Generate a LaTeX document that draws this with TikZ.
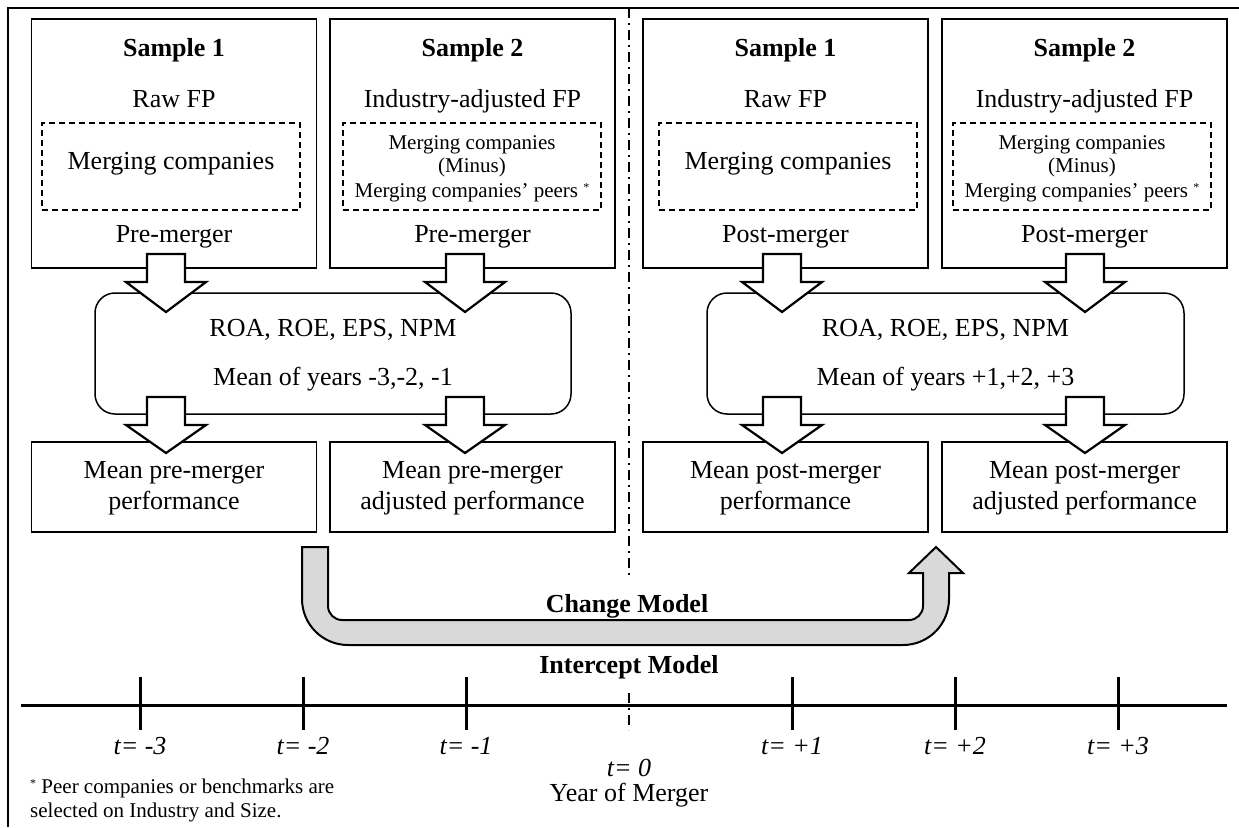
\documentclass[tikz,border=0pt]{standalone}
\usepackage{fontspec}
\setmainfont{Liberation Serif}
\definecolor{ugray}{HTML}{D9D9D9}
\newcommand\blkarrow[4]{% x, shaft top, head base, tip
  \draw[barrow] (#1-19,#2) -- (#1+19,#2) -- (#1+19,#3) -- (#1+40,#3) -- (#1,#4) -- (#1-40,#3) -- (#1-19,#3) -- cycle;}
\newcommand\smstar{\raisebox{6pt}{\fontsize{12}{12}\selectfont *}}
\begin{document}
\begin{tikzpicture}[x=1pt,y=-1pt,
  big/.style={font=\fontsize{26}{31}\selectfont, inner sep=0pt, anchor=base},
  bigb/.style={big, font=\fontsize{26}{31}\selectfont\bfseries},
  tlab/.style={big, font=\fontsize{26}{31}\selectfont\itshape},
  small/.style={font=\fontsize{21}{25}\selectfont, inner sep=0pt, anchor=base},
  topbox/.style={draw, line width=1.3pt, inner sep=0pt, minimum width=285pt, minimum height=249pt},
  dbox/.style={draw, dash pattern=on 6pt off 4pt, line width=1.2pt, inner sep=0pt, minimum width=258pt, minimum height=87pt},
  rbox/.style={draw, rounded corners=20pt, line width=1.5pt, inner sep=0pt, minimum width=477pt, minimum height=121pt},
  botbox/.style={draw, line width=1.3pt, inner sep=0pt, minimum width=285pt, minimum height=90pt},
  barrow/.style={draw, fill=white, line width=2.2pt, line join=miter},
  uarrow/.style={draw, fill=ugray, line width=2pt, line join=miter},
  divider/.style={line width=2pt, dash pattern=on 10pt off 5pt on 2pt off 5pt},
  axisline/.style={line width=3pt},
]
\useasboundingbox (0,0) rectangle (1239,827);
% frame
\draw[line width=2.2pt, line join=miter] (8,827) -- (8,8) -- (1239,8);

% top boxes
\node[topbox] (A) at (174,143.5) {};
\node[topbox] (B) at (472.5,143.5) {};
\node[topbox] (C) at (785.5,143.5) {};
\node[topbox] (D) at (1084.5,143.5) {};
\node[dbox] (Ad) at (171,166.5) {};
\node[dbox] (Bd) at (472,166.5) {};
\node[dbox] (Cd) at (788,166.5) {};
\node[dbox] (Dd) at (1082,166.5) {};

\node[bigb] (A1) at (174,56) {Sample 1};
\node[big] (A2) at (174,107) {Raw FP};
\node[big] (A3) at (171,169) {Merging companies};
\node[big] (A4) at (174,242) {Pre-merger};

\node[bigb] (B1) at (472.5,56) {Sample 2};
\node[big] (B2) at (472.5,107) {Industry-adjusted FP};
\node[small] (B3) at (472,149) {Merging companies};
\node[small] (B4) at (472,172) {(Minus)};
\node[small] (B5) at (472,197) {Merging companies’ peers \smstar};
\node[big] (B6) at (472.5,242) {Pre-merger};

\node[bigb] (C1) at (785.5,56) {Sample 1};
\node[big] (C2) at (785.5,107) {Raw FP};
\node[big] (C3) at (788,169) {Merging companies};
\node[big] (C4) at (785.5,242) {Post-merger};

\node[bigb] (D1) at (1084.5,56) {Sample 2};
\node[big] (D2) at (1084.5,107) {Industry-adjusted FP};
\node[small] (D3) at (1082,149) {Merging companies};
\node[small] (D4) at (1082,172) {(Minus)};
\node[small] (D5) at (1082,197) {Merging companies’ peers \smstar};
\node[big] (D6) at (1084.5,242) {Post-merger};

% rounded boxes
\node[rbox, minimum width=476pt] (L) at (333,353.5) {};
\node[big] (L1) at (333,336) {ROA, ROE, EPS, NPM};
\node[big] (L2) at (333,385) {Mean of years -3,-2, -1};
\node[rbox] (R) at (945.5,353.5) {};
\node[big] (R1) at (945.5,336) {ROA, ROE, EPS, NPM};
\node[big] (R2) at (945.5,385) {Mean of years +1,+2, +3};

% bottom boxes
\node[botbox] (E) at (174,487) {};
\node[botbox] (F) at (472.5,487) {};
\node[botbox] (G) at (785.5,487) {};
\node[botbox] (H) at (1084.5,487) {};
\node[big] (E1) at (174,478) {Mean pre-merger};
\node[big] (E2) at (174,509) {performance};
\node[big] (F1) at (472.5,478) {Mean pre-merger};
\node[big] (F2) at (472.5,509) {adjusted performance};
\node[big] (G1) at (785.5,478) {Mean post-merger};
\node[big] (G2) at (785.5,509) {performance};
\node[big] (H1) at (1084.5,478) {Mean post-merger};
\node[big] (H2) at (1084.5,509) {adjusted performance};

% block arrows
\blkarrow{166}{254}{282}{312}
\blkarrow{465}{254}{282}{312}
\blkarrow{782}{254}{282}{312}
\blkarrow{1085}{254}{282}{312}
\blkarrow{166}{397}{425}{453}
\blkarrow{465}{397}{425}{453}
\blkarrow{782}{397}{425}{453}
\blkarrow{1085}{397}{425}{453}

% divider
\coordinate (v0) at (629,8);
\coordinate (v1) at (629,575);
\coordinate (v2) at (629,693);
\coordinate (v3) at (629,730);
\draw[divider] (v0) -- (v1);
\draw[divider] (v2) -- (v3);

% U arrow
\draw[uarrow] (302,547) -- (328,547) -- (328,606) .. controls (328,613.7) and (334.3,620) .. (342,620)
  -- (909,620) .. controls (916.7,620) and (923,613.7) .. (923,606) -- (923,573) -- (909,573) -- (936,547)
  -- (963,573) -- (949,573) -- (949,599) .. controls (949,624.4) and (928.4,645) .. (903,645)
  -- (348,645) .. controls (322.6,645) and (302,624.4) .. (302,599) -- cycle;
\node[bigb] (cm) at (627,612) {Change Model};
\node[bigb] (im) at (629,673) {Intercept Model};

% timeline
\coordinate (t0) at (21,705);
\coordinate (t1) at (1227,705);
\draw[axisline] (t0) -- (t1);
\foreach \x/\l in {140/-3, 303/-2, 466/-1, 792/+1, 955/+2, 1118/+3} {
  \draw[axisline] (\x,677) -- (\x,730);
  \node[tlab] at (\x,754) {t= \l};
}
\node[tlab] (tz) at (629,776) {t= 0};
\node[big] (ym) at (629,801) {Year of Merger};

% footnote
\node[small, anchor=base west] (fn1) at (30,793) {\smstar\ Peer companies or benchmarks are};
\node[small, anchor=base west] (fn2) at (30,817) {selected on Industry and Size.};
\end{tikzpicture}
\end{document}
